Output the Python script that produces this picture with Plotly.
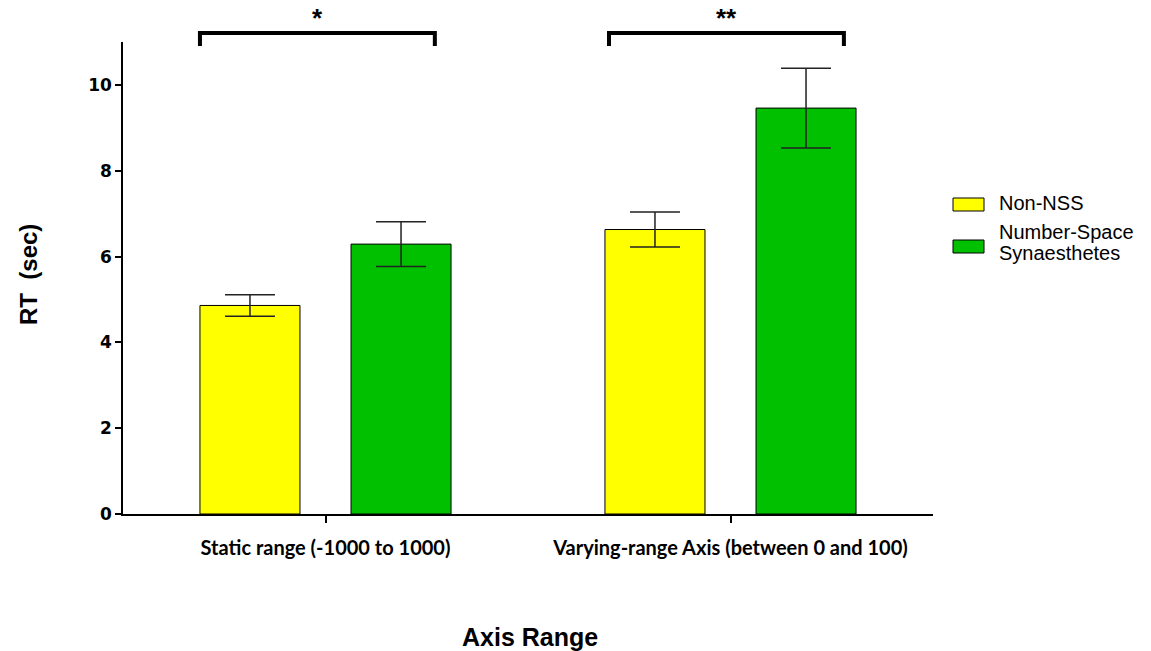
import plotly.graph_objects as go

# Reaction times by axis condition and group
categories = ["Static range (-1000 to 1000)", "Varying-range Axis (between 0 and 100)"]
non_nss_mean = [4.86, 6.63]
non_nss_sem = [0.25, 0.41]
nss_mean = [6.29, 9.46]
nss_sem = [0.52, 0.93]
significance = ["*", "**"]

YELLOW = "#FFFF00"
GREEN = "#00C000"

# plot area in pixels (for placing overlay text in paper coords)
L, R, T, B = 123, 933, 42, 514


def px(x):
    return (x - L) / (R - L)


def py(y):
    return (B - y) / (B - T)


fig = go.Figure()
fig.add_trace(go.Bar(
    name="Non-NSS", x=categories, y=non_nss_mean,
    marker=dict(color=YELLOW, line=dict(color="black", width=1)),
    error_y=dict(type="data", array=non_nss_sem, color="#222222", thickness=1.5, width=25),
    showlegend=False,
))
fig.add_trace(go.Bar(
    name="Number-Space Synaesthetes", x=categories, y=nss_mean,
    marker=dict(color=GREEN, line=dict(color="black", width=1)),
    error_y=dict(type="data", array=nss_sem, color="#222222", thickness=1.5, width=25),
    showlegend=False,
))

# significance brackets above each pair of bars (ends given relative to category centre)
bracket_ends = [(-0.31, 0.27), (-0.30, 0.28)]
shapes = []
annotations = []
for i, (star, (a, b)) in enumerate(zip(significance, bracket_ends)):
    x0, x1 = i + a, i + b
    y_top, y_leg = py(33), py(46)
    shapes.append(dict(type="path", xref="x", yref="paper",
                       path=f"M {x0},{y_leg} L {x0},{y_top} L {x1},{y_top} L {x1},{y_leg}",
                       line=dict(color="black", width=4)))
    annotations.append(dict(x=(x0 + x1) / 2, y=py(18), xref="x", yref="paper",
                            text=star, showarrow=False, xanchor="center", yanchor="middle",
                            font=dict(family="Liberation Sans", size=26, color="black", weight="bold")))

# legend drawn as swatches with labels
legend_items = [
    (YELLOW, 198, 211, ["Non-NSS"], [203]),
    (GREEN, 240, 253, ["Number-Space", "Synaesthetes"], [232, 253]),
]
for color, top, bot, lines, ys in legend_items:
    shapes.append(dict(type="rect", xref="paper", yref="paper",
                       x0=px(953), x1=px(984), y0=py(bot), y1=py(top),
                       fillcolor=color, line=dict(color="black", width=1)))
    for text, yc in zip(lines, ys):
        annotations.append(dict(x=px(997), y=py(yc), xref="paper", yref="paper",
                                text=text, showarrow=False, xanchor="left", yanchor="middle",
                                font=dict(family="Liberation Sans", size=20, color="black")))

# axis titles
annotations.append(dict(x=px(28), y=py(275), xref="paper", yref="paper",
                        text="RT\u00a0\u00a0(sec)", textangle=-90, showarrow=False,
                        xanchor="center", yanchor="middle",
                        font=dict(family="Liberation Sans", size=24, color="black", weight="bold")))
annotations.append(dict(x=px(530), y=py(637), xref="paper", yref="paper",
                        text="Axis Range", showarrow=False, xanchor="center", yanchor="middle",
                        font=dict(family="Liberation Sans", size=25, color="black", weight="bold")))

fig.update_layout(
    width=1151, height=651,
    margin=dict(l=L, r=1151 - R, t=T, b=651 - B),
    paper_bgcolor="white", plot_bgcolor="white",
    barmode="group", bargap=0.254, bargroupgap=0.338,
    shapes=shapes, annotations=annotations,
)
fig.update_xaxes(
    range=[-0.5, 1.5], showline=True, linecolor="black", linewidth=1.5,
    ticks="outside", ticklen=7, tickcolor="black", tickwidth=1.5,
    ticklabelstandoff=8,
    tickfont=dict(family="Lato", size=20, color="black", weight="bold"),
    showgrid=False, zeroline=False,
)
fig.update_yaxes(
    range=[0, 11], showline=True, linecolor="black", linewidth=1.5,
    ticks="outside", ticklen=6, tickcolor="black", tickwidth=1.5,
    tickvals=[0, 2, 4, 6, 8, 10],
    tickfont=dict(family="DejaVu Sans", size=17, color="black", weight="bold"),
    showgrid=False, zeroline=False,
)

fig.write_html("out.html")
